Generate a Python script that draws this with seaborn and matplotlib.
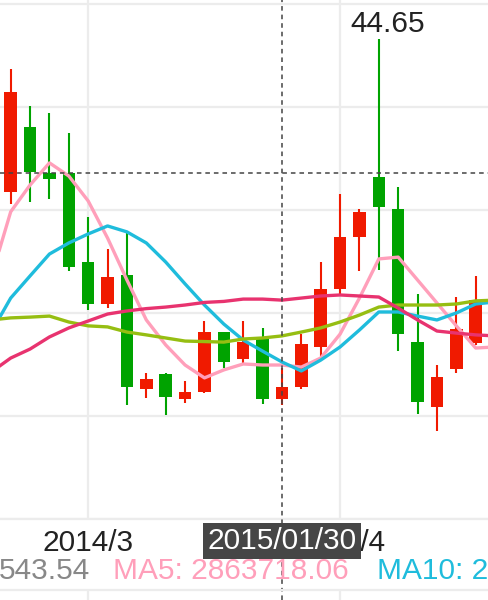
import numpy as np
import pandas as pd
import seaborn as sns
import matplotlib.pyplot as plt
from matplotlib.transforms import blended_transform_factory

# ---- data ----------------------------------------------------------------
# daily candles (visible window), index 0..24
opens  = [38.71, 41.23, 39.45, 39.43, 35.99, 34.35, 35.48, 31.04, 31.63, 30.65, 30.93, 33.26, 32.21,
          32.98, 30.66, 31.14, 32.69, 34.92, 36.96, 39.29, 38.03, 32.86, 30.36, 31.81, 32.84]
closes = [42.59, 39.49, 39.19, 35.80, 34.35, 35.41, 31.14, 31.43, 30.75, 30.93, 33.26, 32.11, 32.89,
          30.66, 31.14, 32.78, 34.92, 36.96, 37.93, 38.13, 33.18, 30.56, 31.50, 33.37, 34.50]
highs  = [43.46, 42.05, 41.78, 40.98, 37.74, 36.49, 37.12, 31.66, 31.66, 31.36, 33.70, 33.28, 33.69,
          33.41, 31.85, 33.17, 35.99, 38.61, 38.03, 44.65, 38.90, 34.74, 31.98, 34.63, 35.44]
lows   = [38.23, 38.32, 38.42, 35.64, 34.12, 34.18, 30.43, 30.69, 30.04, 30.49, 30.88, 31.85, 32.03,
          30.47, 30.43, 31.05, 32.24, 34.70, 35.64, 35.68, 32.54, 30.08, 29.43, 31.66, 32.76]

# moving averages, index -1..25 (run past both edges)
ma_index = list(range(-1, 26))
ma5  = [35.40, 37.93, 38.97, 39.83, 39.32, 38.35, 36.91, 35.28, 33.73, 32.76, 31.98, 31.48, 31.79, 32.02,
        31.98, 31.98, 31.90, 32.25, 33.18, 34.58, 36.10, 36.17, 35.28, 34.39, 33.50, 32.64, 32.68]
ma10 = [33.26, 34.58, 35.44, 36.29, 36.72, 37.07, 37.38, 37.15, 36.72, 35.98, 35.13, 34.31, 33.57, 32.95,
        32.52, 32.10, 31.75, 32.17, 32.68, 33.34, 34.04, 34.04, 33.88, 33.73, 34.00, 34.35, 34.43]
ma20 = [33.73, 33.81, 33.84, 33.88, 33.65, 33.50, 33.46, 33.26, 33.15, 33.03, 32.91, 32.89, 32.87, 32.99,
        33.03, 33.11, 33.26, 33.42, 33.65, 33.92, 34.23, 34.31, 34.31, 34.31, 34.35, 34.47, 34.50]
ma30 = [31.71, 32.25, 32.60, 33.07, 33.42, 33.69, 33.96, 34.08, 34.17, 34.23, 34.31, 34.41, 34.45, 34.54,
        34.54, 34.50, 34.58, 34.66, 34.70, 34.66, 34.62, 34.19, 33.73, 33.30, 33.22, 33.15, 33.11]

tick_pos = [4, 17]
tick_labels = ["2014/3", "2015/4"]
price_grid = [26, 30, 34, 38, 42, 46]

cross_idx = 14
cross_price = 39.44
cross_label = "2015/01/30"
max_idx = 19
vol_legend = ["543.54", "MA5: 2863718.06", "MA10: 2"]

# ---- style ---------------------------------------------------------------
sns.set_theme(style="whitegrid")
plt.rcParams['font.family'] = ['Liberation Sans', 'DejaVu Sans']

UP, DOWN = "#f01a00", "#00a300"
GRID = "#ececec"
FS = 21.5
ma_colors = {"MA5": "#ff9fba", "MA10": "#1fbcdc", "MA20": "#96be12", "MA30": "#e8336f"}

fig = plt.figure(figsize=(4.88, 6.0), dpi=100)
ax = fig.add_axes([0, 0.135, 1, 0.865])
ax2 = fig.add_axes([0, 0, 1, 10 / 600])

# candles
x = np.arange(len(opens))
o, c = np.array(opens), np.array(closes)
cols = [UP if cc > oo else DOWN for oo, cc in zip(o, c)]
ax.vlines(x, lows, highs, colors=cols, lw=1.5, zorder=1.4)
ax.bar(x, np.abs(c - o), bottom=np.minimum(o, c), width=0.645, color=cols, lw=0, zorder=1.5)

# moving averages
ma = pd.DataFrame({"idx": ma_index, "MA5": ma5, "MA10": ma10, "MA20": ma20, "MA30": ma30})
ma_long = ma.melt(id_vars="idx", var_name="series", value_name="price")
sns.lineplot(data=ma_long, x="idx", y="price", hue="series", palette=ma_colors,
             linewidth=2.4, legend=False, sort=False, ax=ax, zorder=3)

# max label
ax.annotate("44.65", (max_idx, highs[max_idx]), xytext=(6.6, 5), textcoords="offset points",
            ha="center", va="baseline", fontsize=FS, color="#222222", zorder=6)

# axes / grid
ax.set_xlim(-0.552, 24.635)
ax.set_ylim(26, 46.155)
ax.set_yticks(price_grid)
ax.set_yticklabels([])
ax.set_xticks(tick_pos)
ax.set_xticklabels(tick_labels, fontsize=FS, color="#222222")
ax.tick_params(axis="both", length=0)
ax.tick_params(axis="x", pad=7)
ax.grid(True, color=GRID, lw=1.6)
ax.set_xlabel("")
ax.set_ylabel("")
for s in ax.spines.values():
    s.set_visible(False)
ax.spines["bottom"].set_visible(True)
ax.spines["bottom"].set_color(GRID)
ax.spines["bottom"].set_linewidth(1.6)

# crosshair
ax.axhline(cross_price, color="#444444", lw=1.1, ls=(0, (3, 2.6)), zorder=5)
ax.axvline(cross_idx, ymin=-0.16, ymax=1, color="#444444", lw=1.1, ls=(0, (3, 2.6)),
           zorder=5, clip_on=False)
trans = blended_transform_factory(ax.transData, ax.transAxes)
ax.text(cross_idx, -0.0424, cross_label, transform=trans, ha="center", va="center",
        fontsize=FS, color="white", zorder=10, clip_on=False,
        bbox=dict(boxstyle="square,pad=0.15", fc="#464646", ec="none"))

# lower (volume) panel strip
ax2.set_xlim(ax.get_xlim())
ax2.set_ylim(0, 1)
ax2.set_xticks(tick_pos)
ax2.set_xticklabels([])
ax2.set_yticks([])
ax2.tick_params(length=0)
ax2.grid(True, axis="x", color=GRID, lw=1.6)
for s in ax2.spines.values():
    s.set_visible(False)
ax2.spines["top"].set_visible(True)
ax2.spines["top"].set_color(GRID)
ax2.spines["top"].set_linewidth(1.6)
ax2.axvline(cross_idx, color="#444444", lw=1.1, ls=(0, (3, 2.6)))

# volume legend row
fig.text(-0.002, 1 - 579 / 600, vol_legend[0], fontsize=FS, color="#888888", va="baseline")
fig.text(113 / 488, 1 - 579 / 600, vol_legend[1], fontsize=FS, color=ma_colors["MA5"], va="baseline")
fig.text(377 / 488, 1 - 579 / 600, vol_legend[2], fontsize=FS, color=ma_colors["MA10"], va="baseline")

fig.savefig("out.png", dpi=100)
